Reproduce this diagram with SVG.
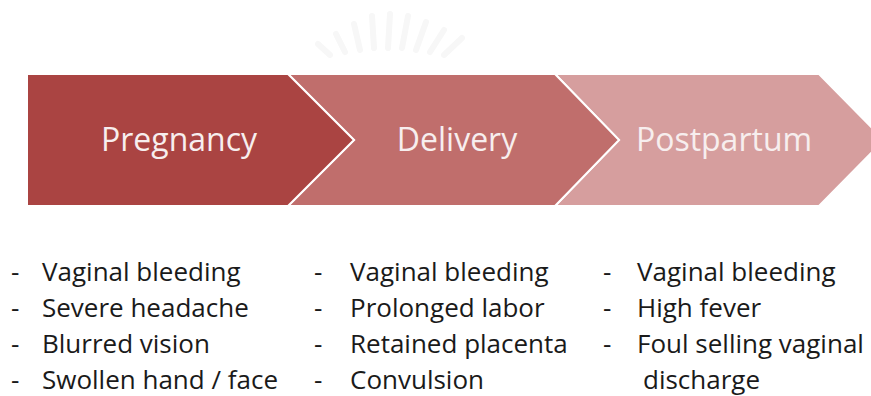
<svg xmlns="http://www.w3.org/2000/svg" width="871" height="396" viewBox="0 0 871 396">
<style>
.chev{stroke:#ffffff;stroke-width:2;stroke-linejoin:miter}
.title{font-family:"Open Sans","Liberation Sans",sans-serif;font-size:32px;fill:#f7eeee;text-anchor:middle}
.item{font-family:"Open Sans","Liberation Sans",sans-serif;font-size:26px;fill:#1a1a1a}
.ray{stroke:#f7f7f7;stroke-width:6;stroke-linecap:round}
</style>
<rect width="871" height="396" fill="#ffffff"/>
<g id="watermark">
<line class="ray" x1="330" y1="55" x2="318" y2="44"/>
<line class="ray" x1="345" y1="52" x2="336" y2="34"/>
<line class="ray" x1="360" y1="50" x2="354" y2="24"/>
<line class="ray" x1="374" y1="48" x2="372" y2="16"/>
<line class="ray" x1="388" y1="48" x2="390" y2="14"/>
<line class="ray" x1="402" y1="48" x2="408" y2="16"/>
<line class="ray" x1="416" y1="50" x2="426" y2="22"/>
<line class="ray" x1="430" y1="52" x2="444" y2="30"/>
<line class="ray" x1="444" y1="55" x2="462" y2="38"/>
</g>
<g id="postpartum">
<path class="chev" d="M555,74 L819,74 L884,140 L819,206 L555,206 L619,140 Z" fill="#d69e9e"/>
<text class="title" x="724" y="151">Postpartum</text>
</g>
<g id="delivery">
<path class="chev" d="M288,74 L555,74 L619,140 L555,206 L288,206 L354,140 Z" fill="#c06e6c"/>
<text class="title" x="457" y="151">Delivery</text>
</g>
<g id="pregnancy">
<path class="chev" d="M27,74 L288,74 L354,140 L288,206 L27,206 Z" fill="#aa4442"/>
<text class="title" x="179" y="151">Pregnancy</text>
</g>
<g id="list-pregnancy">
<text class="item" x="11" y="281">-</text><text class="item" x="42" y="281">Vaginal bleeding</text>
<text class="item" x="11" y="317">-</text><text class="item" x="42" y="317">Severe headache</text>
<text class="item" x="11" y="353">-</text><text class="item" x="42" y="353">Blurred vision</text>
<text class="item" x="11" y="389">-</text><text class="item" x="42" y="389">Swollen hand / face</text>
</g>
<g id="list-delivery">
<text class="item" x="314" y="281">-</text><text class="item" x="350" y="281">Vaginal bleeding</text>
<text class="item" x="314" y="317">-</text><text class="item" x="350" y="317">Prolonged labor</text>
<text class="item" x="314" y="353">-</text><text class="item" x="350" y="353">Retained placenta</text>
<text class="item" x="314" y="389">-</text><text class="item" x="350" y="389">Convulsion</text>
</g>
<g id="list-postpartum">
<text class="item" x="603" y="281">-</text><text class="item" x="637" y="281">Vaginal bleeding</text>
<text class="item" x="603" y="317">-</text><text class="item" x="637" y="317">High fever</text>
<text class="item" x="603" y="353">-</text><text class="item" x="637" y="353">Foul selling vaginal</text>
<text class="item" x="643" y="389">discharge</text>
</g>
<g id="connectors"/>
</svg>
